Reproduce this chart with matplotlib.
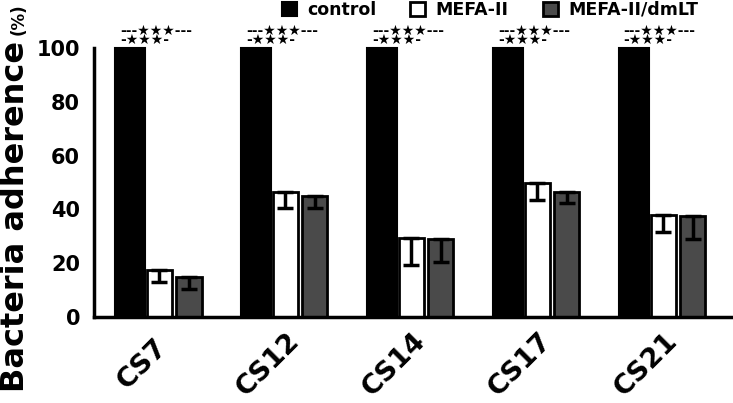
import matplotlib
matplotlib.use("Agg")
import matplotlib.pyplot as plt
import numpy as np

# strains on the x axis
strains = ["CS7", "CS12", "CS14", "CS17", "CS21"]

# adherence in % of control
control = [100, 100, 100, 100, 100]
mefa = [17.5, 46.5, 29.5, 50, 38]
mefa_err = [4.5, 6, 10, 6.5, 6.5]
dmlt = [15, 45, 29, 46.5, 37.5]
dmlt_err = [4.5, 4.5, 8.5, 4, 8.5]

sig_text = "---\u2605\u2605\u2605---\n-\u2605\u2605\u2605-"

plt.rcParams['font.family'] = ['DejaVu Sans']
plt.rcParams['font.weight'] = 'bold'

fig = plt.figure(figsize=(7.33, 4.03), dpi=100)
ax = fig.add_axes([94/733, 1-317/403, (732-94)/733, (317-48)/403])

x = np.arange(len(strains))
w_ctrl = 0.24
w_grp = 0.20
off1 = 0.234
off2 = 0.468

ax.bar(x, control, width=w_ctrl, color='black', edgecolor='black', linewidth=1.5,
       label='control', clip_on=False, zorder=2)
ax.bar(x + off1, mefa, width=w_grp, color='white', edgecolor='black', linewidth=2,
       label='MEFA-II', zorder=2)
ax.bar(x + off2, dmlt, width=w_grp, color='#4a4a4a', edgecolor='black', linewidth=2,
       label='MEFA-II/dmLT', zorder=2)

# errors only drawn downward
ax.errorbar(x + off1, mefa, yerr=[mefa_err, [0]*5], fmt='none', ecolor='black',
            elinewidth=2.5, capsize=6, capthick=2.5, zorder=3)
ax.errorbar(x + off2, dmlt, yerr=[dmlt_err, [0]*5], fmt='none', ecolor='black',
            elinewidth=2.5, capsize=6, capthick=2.5, zorder=3)

for xi in x:
    ax.text(xi - w_ctrl/2 + 0.04, 100.4, sig_text, fontsize=10, fontweight='bold',
            ha='left', va='bottom', linespacing=0.5, clip_on=False)

ax.set_ylim(0, 100)
ax.set_xlim(-0.286, 4.78)
ax.set_yticks([0, 20, 40, 60, 80, 100])
ax.tick_params(axis='y', length=0, pad=10, labelsize=15)
ax.set_yticklabels(['0', '20', '40', '60', '80', '100'], fontweight='bold')
ax.set_xticks(x + 0.1)
ax.set_xticklabels(strains, rotation=45, ha='center', va='center', rotation_mode='anchor',
                   fontsize=19.5, fontweight='bold')
ax.tick_params(axis='x', length=0, pad=34)

for s in ['top', 'right']:
    ax.spines[s].set_visible(False)
for s in ['left', 'bottom']:
    ax.spines[s].set_linewidth(2.5)

fig.text(24/733, 1-217/403, "Bacteria adherence", rotation=90, rotation_mode='anchor',
         fontsize=23, fontweight='bold', ha='center', va='baseline')
fig.text(24/733, 1-19/403, "(%)", rotation=90, rotation_mode='anchor',
         fontsize=12, fontweight='bold', ha='center', va='baseline')

fig.legend(loc='center left', bbox_to_anchor=(282/733, 1-10/403), ncol=3, frameon=False,
           prop={'weight': 'bold', 'size': 12.5}, handlelength=0.86, handleheight=0.86,
           handletextpad=0.6, columnspacing=1.95, borderaxespad=0, borderpad=0)

fig.savefig("out.png", dpi=100)
